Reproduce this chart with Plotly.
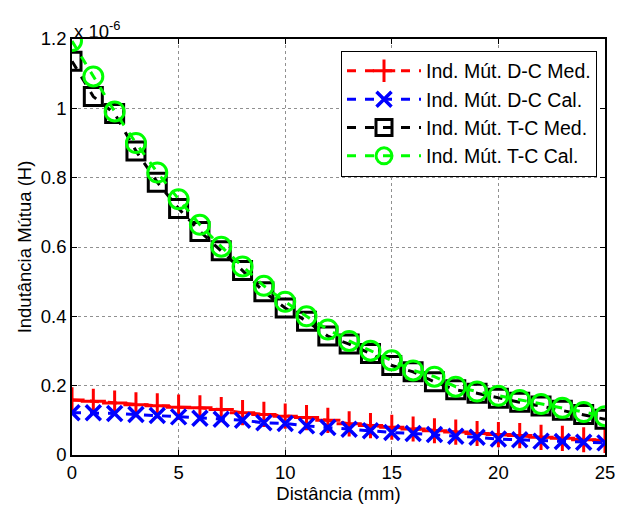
import plotly.graph_objects as go

dist_mm = list(range(0, 26))

# values in units of 1e-6 H
dc_med = [0.159, 0.155, 0.150, 0.145, 0.142, 0.138, 0.136, 0.131, 0.122, 0.117,
          0.112, 0.108, 0.100, 0.090, 0.085, 0.080, 0.075, 0.070, 0.066, 0.062,
          0.059, 0.056, 0.051, 0.048, 0.044, 0.042]
dc_cal = [0.122, 0.122, 0.120, 0.117, 0.114, 0.110, 0.106, 0.103, 0.100, 0.093,
          0.091, 0.084, 0.079, 0.074, 0.070, 0.065, 0.062, 0.059, 0.054, 0.051,
          0.046, 0.044, 0.040, 0.039, 0.037, 0.035]
tc_med = [1.136, 1.034, 0.985, 0.877, 0.787, 0.711, 0.645, 0.589, 0.532, 0.471,
          0.424, 0.386, 0.343, 0.320, 0.293, 0.258, 0.240, 0.211, 0.188, 0.178,
          0.164, 0.152, 0.141, 0.129, 0.117, 0.103]
tc_cal = [1.194, 1.092, 0.991, 0.900, 0.815, 0.738, 0.664, 0.601, 0.544, 0.488,
          0.442, 0.400, 0.362, 0.329, 0.301, 0.273, 0.244, 0.226, 0.197, 0.183,
          0.171, 0.159, 0.147, 0.136, 0.124, 0.112]

names = ["Ind. Mút. D-C Med.", "Ind. Mút. D-C Cal.", "Ind. Mút. T-C Med.", "Ind. Mút. T-C Cal."]
x_ticks = [0, 5, 10, 15, 20, 25]
y_ticks = [0, 0.2, 0.4, 0.6, 0.8, 1.0, 1.2]

FONT = "Liberation Sans, Arial, sans-serif"
FS = 18.5

fig = go.Figure()
fig.add_trace(go.Scatter(x=dist_mm, y=dc_med, name=names[0], mode="lines+markers",
                         line=dict(color="#ff0000", width=3, dash="dash"),
                         marker=dict(symbol="cross-thin", size=18, color="#ff0000",
                                     line=dict(color="#ff0000", width=3))))
fig.add_trace(go.Scatter(x=dist_mm, y=dc_cal, name=names[1], mode="lines+markers",
                         line=dict(color="#0000ff", width=3, dash="dash"),
                         marker=dict(symbol="x-thin", size=15, color="#0000ff",
                                     line=dict(color="#0000ff", width=3.5))))
fig.add_trace(go.Scatter(x=dist_mm, y=tc_med, name=names[2], mode="lines+markers",
                         line=dict(color="#000000", width=3, dash="dash"),
                         marker=dict(symbol="square-open", size=18, color="#000000",
                                     line=dict(color="#000000", width=3))))
fig.add_trace(go.Scatter(x=dist_mm, y=tc_cal, name=names[3], mode="lines+markers",
                         line=dict(color="#00ff00", width=3, dash="dash"),
                         marker=dict(symbol="circle-open", size=19, color="#00ff00",
                                     line=dict(color="#00ff00", width=3))))

axis_common = dict(showline=True, linecolor="black", linewidth=1.5, mirror="ticks",
                   ticks="inside", ticklen=5, tickcolor="black",
                   showgrid=True, gridcolor="#909090", griddash="dot", gridwidth=1,
                   zeroline=False, tickfont=dict(family=FONT, size=FS, color="black"))

fig.update_xaxes(range=[0, 25], tickvals=x_ticks,
                 title=dict(text="Distância (mm)", font=dict(family=FONT, size=FS, color="black"), standoff=4),
                 **axis_common)
fig.update_yaxes(range=[0, 1.2], tickvals=y_ticks,
                 title=dict(text="Indutância Mútua (H)", font=dict(family=FONT, size=FS, color="black"), standoff=4),
                 **axis_common)

fig.add_annotation(xref="paper", yref="paper", x=0, y=1, xanchor="left", yanchor="bottom",
                   text="x 10<sup>-6</sup>", showarrow=False, yshift=-5,
                   font=dict(family=FONT, size=FS, color="black"))

fig.update_layout(
    width=627, height=512,
    margin=dict(l=72, r=14, t=39, b=49),
    paper_bgcolor="white", plot_bgcolor="white",
    showlegend=True,
    legend=dict(x=0.985, y=0.972, xanchor="right", yanchor="top",
                bgcolor="white", bordercolor="black", borderwidth=1,
                font=dict(family=FONT, size=19.5, color="black"),
                tracegroupgap=0, itemwidth=74),
)

fig.write_html("out.html", config={"displayModeBar": False},
               post_script="document.body.style.margin='0px';")
